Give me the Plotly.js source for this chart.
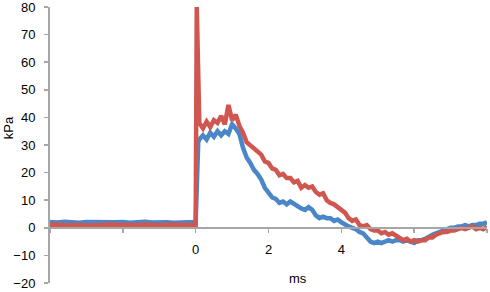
<!DOCTYPE html>
<html>
<head>
<meta charset="utf-8">
<script src="https://cdn.plot.ly/plotly-3.0.1.min.js"></script>
<style>
  html, body { margin: 0; padding: 0; background: #fff; }
  #chart { width: 490px; height: 292px; }
</style>
</head>
<body>
<div id="chart"></div>
<script>
// time in ms
var timeMs = [
  -4.0, -3.8, -3.6, -3.4, -3.2, -3.0, -2.8, -2.6, -2.4, -2.2,
  -2.0, -1.8, -1.6, -1.4, -1.2, -1.0, -0.8, -0.6, -0.4, -0.2,
  0.0, 0.03, 0.07,
  0.1, 0.2, 0.3, 0.4, 0.5, 0.6, 0.7, 0.8, 0.9, 1.0,
  1.1, 1.2, 1.3, 1.4, 1.5, 1.6, 1.7, 1.8, 1.9, 2.0,
  2.1, 2.2, 2.3, 2.4, 2.5, 2.6, 2.7, 2.8, 2.9, 3.0,
  3.1, 3.2, 3.3, 3.4, 3.5, 3.6, 3.7, 3.8, 3.9, 4.0,
  4.1, 4.2, 4.3, 4.4, 4.5, 4.6, 4.7, 4.8, 4.9, 5.0,
  5.1, 5.2, 5.3, 5.4, 5.5, 5.6, 5.7, 5.8, 5.9, 6.0,
  6.1, 6.2, 6.3, 6.4, 6.5, 6.6, 6.7, 6.8, 6.9, 7.0,
  7.1, 7.2, 7.3, 7.4, 7.5, 7.6, 7.7, 7.8, 7.9, 8.0
]

// pressure, kPa
var bluePressure = [
  2.1, 1.9, 2.2, 2.0, 1.8, 2.1, 2.0, 2.2, 1.9, 2.0,
  2.1, 1.8, 2.0, 2.2, 1.9, 2.1, 2.0, 1.8, 2.1, 2.0,
  2.0, 20, 31,
  32, 33.5, 32, 34.5, 33, 35, 33.5, 35, 34, 37.5,
  36, 34, 29, 25.5, 23.5, 21, 19.5, 17.5, 14.5, 12.5,
  11, 10.5, 9, 9.5, 8.5, 9.5, 8.5, 8, 7, 6.5,
  7.5, 6.5, 4.5, 3.5, 4, 3.5, 3.5, 2.5, 3, 2,
  1, 0.5, 0, -0.5, -1.5, -2, -3.5, -5, -5.5, -5,
  -5.5, -5, -4.5, -5, -4.5, -4.5, -5, -4.5, -5, -5.5,
  -4.5, -4.5, -4, -3, -2.5, -2, -1.5, -1, -0.5, 0,
  0, 0.5, 0.5, 1, 0.5, 1, 1, 1.5, 1.5, 2
]

var redPressure = [
  1.0, 1.2, 0.9, 1.1, 1.0, 0.8, 1.1, 1.0, 1.2, 0.9,
  1.0, 1.1, 0.9, 1.2, 1.0, 0.9, 1.1, 1.0, 0.8, 1.1,
  1.0, 80, 41,
  38, 36, 38.5, 36.5, 39, 38, 40.5, 37.5, 44.5, 39,
  41, 37, 34.5, 31, 30, 29, 27.5, 26.5, 24, 23.5,
  21.5, 21, 19, 19.5, 18, 18, 16.5, 17, 14.5, 15.5,
  14.5, 15, 13, 12, 12.5, 10, 9, 8.5, 7.5, 6.5,
  5.5, 3.5, 2.5, 3, 1, 0.5, 1, -0.5, -1, -1,
  -2, -1.5, -2.5, -2, -3, -3.5, -4.5, -4, -5, -4.5,
  -5, -4.5, -4.5, -3.5, -3.5, -2.5, -2, -1.5, -1.5, -1,
  -1, -0.5, 0, -0.5, 0, 0.5, -0.5, 0, -0.5, 0.5
]

var xTickVals = [-4, -2, 0, 2, 4, 6, 8]
var xTickText = ['', '', '0', '2', '4', '', '']
var yTickVals = [-20, -10, 0, 10, 20, 30, 40, 50, 60, 70, 80]

var axisFont = {family: 'Liberation Sans, Arial, sans-serif', size: 13, color: '#000'}

var data = [
  {
    x: timeMs, y: bluePressure, mode: 'lines',
    line: {color: '#4a86c8', width: 4.5}
  },
  {
    x: timeMs, y: redPressure, mode: 'lines',
    line: {color: '#d0574f', width: 4.5}
  }
]

var layout = {
  width: 490, height: 292,
  margin: {l: 50, r: 3, t: 7, b: 9},
  paper_bgcolor: '#fff', plot_bgcolor: '#fff',
  showlegend: false,
  font: axisFont,
  xaxis: {
    range: [-4, 8],
    tickvals: xTickVals, ticktext: xTickText,
    ticks: 'outside', ticklen: 4, tickwidth: 1.5, tickcolor: '#a6a6a6',
    showline: true, linecolor: '#a6a6a6', linewidth: 2,
    showgrid: false, zeroline: false,
    anchor: 'free', position: 0.2,
    ticklabelstandoff: 6,
    tickfont: axisFont
  },
  yaxis: {
    range: [-20, 80],
    tickvals: yTickVals,
    ticks: 'outside', ticklen: 4, tickwidth: 1.5, tickcolor: '#a6a6a6',
    showline: true, linecolor: '#a6a6a6', linewidth: 2,
    showgrid: false, zeroline: false,
    ticklabelstandoff: 6,
    ticklabeloverflow: 'allow',
    tickfont: axisFont
  },
  annotations: [
    {text: 'ms', xref: 'paper', yref: 'paper', x: 0.5675, y: 0.018,
     xanchor: 'center', yanchor: 'middle', showarrow: false, font: axisFont},
    {text: 'kPa', xref: 'paper', yref: 'paper', x: -0.096, y: 0.561,
     xanchor: 'center', yanchor: 'middle', textangle: -90, showarrow: false, font: axisFont}
  ]
}

Plotly.newPlot('chart', data, layout, {staticPlot: true})
</script>
</body>
</html>
